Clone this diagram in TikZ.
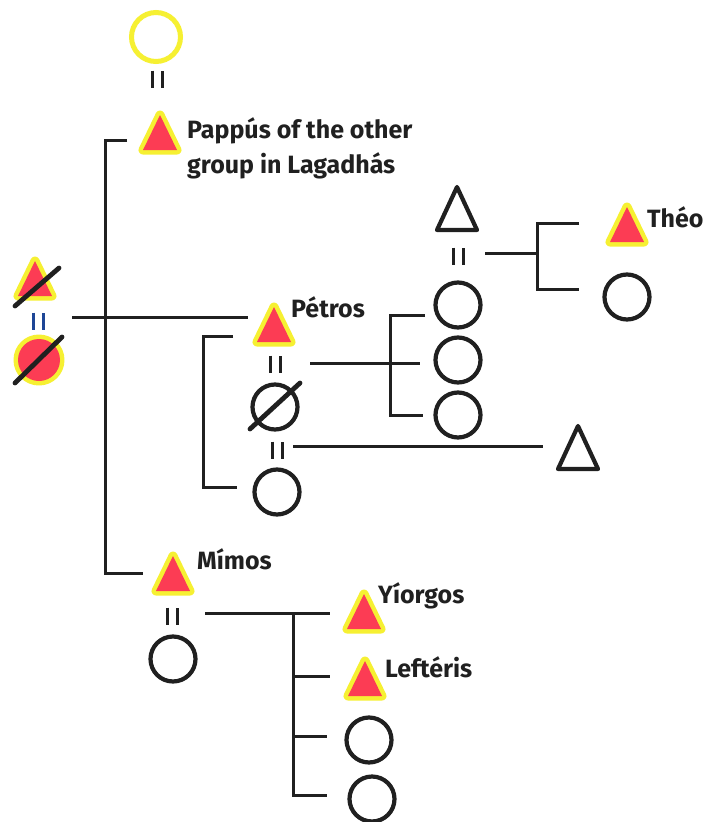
\documentclass[tikz,border=0pt]{standalone}
\usepackage{fontspec}
\usepackage{tikz}
\usepackage{xcolor}

\newfontfamily\namefont{Fira Sans}
\definecolor{kinred}{RGB}{252,60,84}
\definecolor{glow}{RGB}{246,240,50}
\definecolor{ink}{RGB}{32,32,32}
\definecolor{eqblue}{RGB}{30,70,150}

% symbols, #1 = centre
\newcommand{\manred}[1]{\path[ego] (#1) ++(0,-18) -- ++(17,35) -- ++(-34,0) -- cycle;}
\newcommand{\manplain}[1]{\draw[sym] (#1) ++(0,-22) -- ++(20,43) -- ++(-40,0) -- cycle;}
\newcommand{\woman}[1]{\draw[sym] (#1) circle (22.5pt);}
\newcommand{\marr}[2][ink]{\draw[eq, #1] (#2) ++(-5,-8.5) -- ++(0,17) ++(10,0) -- ++(0,-17);}

\begin{document}
\begin{tikzpicture}[x=1pt, y=-1pt,
    kin/.style={line width=3pt, ink},
    sym/.style={line width=4.2pt, ink, line join=round},
    ego/.style={fill=kinred, preaction={draw=glow, line width=9pt, line join=round}},
    eq/.style={line width=3pt},
    slash/.style={line width=4.8pt, ink, line cap=round},
    kinname/.style={anchor=base west, inner sep=0pt, text=ink,
                 font=\namefont\bfseries\fontsize{25}{29}\selectfont}]
    \fill[white] (0,0) rectangle (707,822);
    \useasboundingbox (0,0) rectangle (707,822);

    % people
    \coordinate (pwife) at (156,37);
    \coordinate (pappus) at (160,133);
    \coordinate (father) at (35,279);
    \coordinate (mother) at (39,360);
    \coordinate (petros) at (274,325);
    \coordinate (exwife) at (275,407);
    \coordinate (wife2) at (277,492);
    \coordinate (exman) at (578,448);
    \coordinate (d1) at (458,305);
    \coordinate (d2) at (458,360);
    \coordinate (d3) at (458,415);
    \coordinate (dhusb) at (457,209);
    \coordinate (theo) at (627,225);
    \coordinate (theosis) at (627,297);
    \coordinate (mimos) at (173,574);
    \coordinate (mwife) at (173,659);
    \coordinate (yiorgos) at (364,612);
    \coordinate (lefteris) at (365,679);
    \coordinate (g1) at (369,740);
    \coordinate (g2) at (372,799);

    % marriages
    \marr{157,79}
    \marr[eqblue]{38,321}
    \marr{275,364}
    \marr{277,450}
    \marr{458,256}
    \marr{172,616}

    % the sibling line
    \coordinate (top) at (127,140);
    \coordinate (spine) at (105,317);
    \coordinate (bottom) at (143,573);
    \coordinate (parents) at (72,317);
    \coordinate (petrosL) at (248,317);
    \draw[kin] (top) -| (spine) |- (bottom);
    \draw[kin] (parents) -- (petrosL);

    % Petros' wives and children
    \coordinate (w1) at (233,336);
    \coordinate (wspine) at (203,400);
    \coordinate (w2) at (237,487);
    \draw[kin] (w1) -| (wspine) |- (w2);
    \coordinate (pm) at (310,363);
    \coordinate (pk) at (390,363);
    \coordinate (c1) at (425,315);
    \coordinate (c2) at (420,363);
    \coordinate (c3) at (423,415);
    \draw[kin] (pm) -- (c2);
    \draw[kin] (c1) -| (pk) |- (c3);
    \coordinate (m2) at (293,446);
    \coordinate (exh) at (543,446);
    \draw[kin] (m2) -- (exh);

    % Theo's line
    \coordinate (tm) at (485,253);
    \coordinate (tk) at (537,253);
    \coordinate (t1) at (579,223);
    \coordinate (t2) at (579,289);
    \draw[kin] (tm) -- (tk);
    \draw[kin] (t1) -| (tk) |- (t2);

    % Mimos' children
    \coordinate (mm) at (205,613);
    \coordinate (mk) at (293,613);
    \coordinate (k1) at (330,613);
    \coordinate (k2) at (330,676);
    \coordinate (k3) at (327,736);
    \coordinate (k4) at (327,795);
    \draw[kin] (mm) -- (k1);
    \draw[kin] (mk) |- (k4);
    \foreach \k in {k2,k3}
        \draw[kin] (\k -| mk) -- (\k);

    % symbols
    \draw[glow, line width=5pt, fill=white] (pwife) circle (24.5pt);
    \foreach \p in {pappus,father,petros,theo,mimos,yiorgos,lefteris}
        {\manred{\p}}
    \path[ego] (mother) circle (21pt);
    \foreach \p in {exwife,wife2,d1,d2,d3,theosis,mwife,g1,g2}
        {\woman{\p}}
    \manplain{dhusb}
    \manplain{exman}

    % deceased
    \draw[slash] (father) ++(-20,27) -- ++(44,-38);
    \draw[slash] (mother) ++(-24,23) -- ++(47,-46);
    \draw[slash] (exwife) ++(-25,22) -- ++(50,-46);

    % names
    \node[kinname] (pappusname) at (187,138) {Pappús of the other};
    \node[kinname] (pappusname2) at (187,173) {group in Lagadhás};
    \node[kinname] (petrosname) at (291,317) {Pétros};
    \node[kinname] (theoname) at (647,227) {Théo};
    \node[kinname] (mimosname) at (197,569) {Mímos};
    \node[kinname] (yiorgosname) at (378,603) {Yíorgos};
    \node[kinname] (lefterisname) at (385,677) {Leftéris};
\end{tikzpicture}
\end{document}
